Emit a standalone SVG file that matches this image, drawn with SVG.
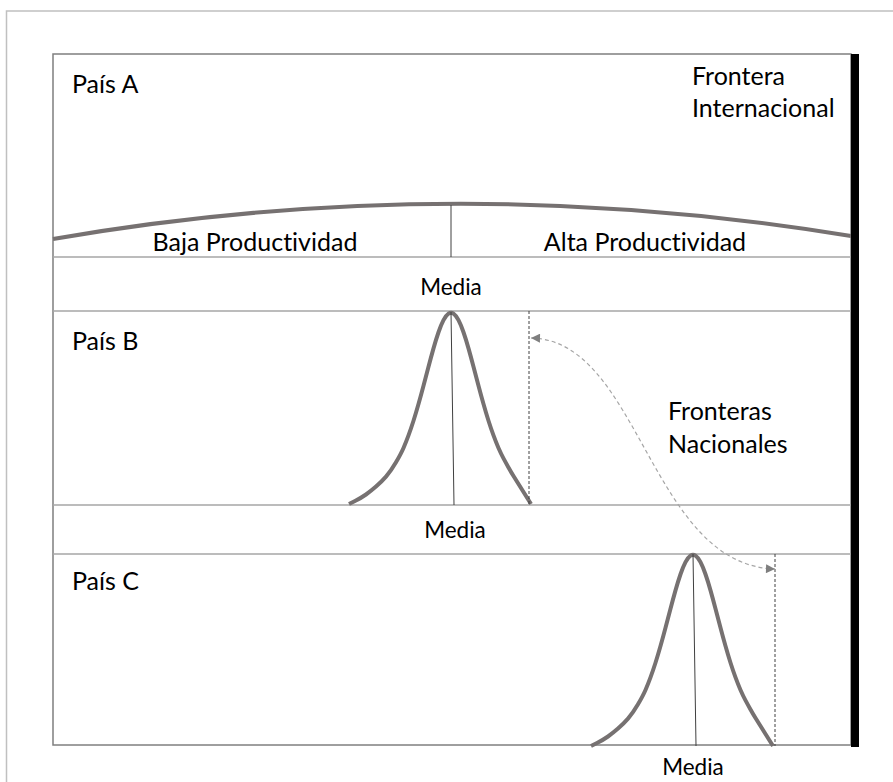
<svg xmlns="http://www.w3.org/2000/svg" width="893" height="782" viewBox="0 0 893 782">
  <style>
    .lbl { font-family: Lato, "Open Sans", "Liberation Sans", sans-serif; fill: #000; font-variant-ligatures: none; font-feature-settings: "liga" 0, "clig" 0; }
    .big { font-size: 25px; }
    .small { font-size: 22.5px; }
    .band { stroke: #a6a6a6; stroke-width: 1.5; fill: none; }
    .curve { stroke: #767171; stroke-width: 4; fill: none; stroke-linejoin: round; stroke-linecap: butt; }
    .mean { stroke: #404040; stroke-width: 1; fill: none; }
    .edge { stroke: #404040; stroke-width: 1; stroke-dasharray: 3 2; fill: none; }
    .link { stroke: #a6a6a6; stroke-width: 1.2; stroke-dasharray: 4 3; fill: none; }
  </style>
  <defs>
    <marker id="head" viewBox="0 0 10 10" refX="10" refY="5" markerWidth="10" markerHeight="9" markerUnits="userSpaceOnUse" orient="auto-start-reverse">
      <path d="M0,0 L10,5 L0,10 Z" fill="#7f7f7f"/>
    </marker>
    <!-- bell curve, peak at origin, base at y=192 -->
    <path id="bell" d="M-102,192 L-96,189 Q-90,186 -85,182.5 Q-80,179 -75,174.6 Q-70,170.2 -65,164.55 Q-60,158.9 -55,150.3 Q-50,141.7 -47.5,135.95 Q-45,130.2 -42.5,123.4 Q-40,116.6 -37.5,108.75 Q-35,100.9 -32.5,92.05 Q-30,83.2 -27.5,73.75 Q-25,64.3 -22.5,54.75 Q-20,45.2 -17.5,36.35 Q-15,27.5 -12.5,20.25 Q-10,13 -7.5,8.2 Q-5,3.4 -2.5,1.7 Q0,0 2.5,1.7 Q5,3.4 7.5,8.2 Q10,13 12.5,20.25 Q15,27.5 17.5,36.35 Q20,45.2 22.5,54.75 Q25,64.3 27.5,73.75 Q30,83.2 32.5,92.05 Q35,100.9 37.5,108.75 Q40,116.6 42.5,123.4 Q45,130.2 47.5,135.95 Q50,141.7 52.5,146.35 Q55,151 57.5,155.5 Q60,160 62.5,164 Q65,168 67.5,172 Q70,176 72.5,180 Q75,184 77.5,188 L80,192"/>
  </defs>

  <rect width="893" height="782" fill="#fff"/>

  <!-- page frame -->
  <path d="M6.5,782 L6.5,11 L893,11" stroke="#c0c0c0" stroke-width="1.5" fill="none"/>

  <!-- main box -->
  <g id="frame">
    <rect x="53" y="54" width="798" height="691" fill="none" stroke="#7f7f7f" stroke-width="1.5"/>
    <line class="band" x1="53" y1="257" x2="851" y2="257"/>
    <line class="band" x1="53" y1="311" x2="851" y2="311"/>
    <line class="band" x1="53" y1="505" x2="851" y2="505"/>
    <line class="band" x1="53" y1="554" x2="851" y2="554"/>
  </g>

  <!-- country A: wide distribution -->
  <g id="pais-a">
    <text class="lbl big" x="72" y="93">País A</text>
    <path class="curve" d="M53,239 Q452,170 851,236"/>
    <line class="mean" x1="451" y1="205" x2="451" y2="257"/>
    <text class="lbl big" x="255" y="251" text-anchor="middle">Baja Productividad</text>
    <text class="lbl big" x="645" y="251" text-anchor="middle">Alta Productividad</text>
  </g>

  <g id="media-a">
    <text class="lbl small" x="451" y="295" text-anchor="middle">Media</text>
  </g>

  <!-- country B -->
  <g id="pais-b">
    <text class="lbl big" x="72" y="350">País B</text>
    <use href="#bell" class="curve" transform="translate(451,312)"/>
    <line class="mean" x1="451" y1="312" x2="454" y2="505"/>
    <line class="edge" x1="529" y1="311" x2="529" y2="504"/>
  </g>

  <g id="media-b">
    <text class="lbl small" x="455" y="538" text-anchor="middle">Media</text>
  </g>

  <!-- country C -->
  <g id="pais-c">
    <text class="lbl big" x="72" y="590">País C</text>
    <use href="#bell" class="curve" transform="translate(693,554)"/>
    <line class="mean" x1="693" y1="554" x2="696" y2="746"/>
    <line class="edge" x1="775" y1="554" x2="775" y2="746"/>
  </g>

  <g id="media-c">
    <text class="lbl small" x="693" y="775" text-anchor="middle">Media</text>
  </g>

  <!-- international frontier -->
  <g id="frontera-internacional">
    <rect x="851" y="54" width="8" height="693" fill="#000"/>
    <text class="lbl big" x="692" y="85">Frontera</text>
    <text class="lbl big" x="692" y="117">Internacional</text>
  </g>

  <g id="fronteras-nacionales">
    <text class="lbl big" x="668" y="420">Fronteras</text>
    <text class="lbl big" x="668" y="453">Nacionales</text>
  </g>

  <g id="connectors">
    <path class="link" d="M531,338 C640,340 650,565 775,569" marker-start="url(#head)" marker-end="url(#head)"/>
  </g>
</svg>
